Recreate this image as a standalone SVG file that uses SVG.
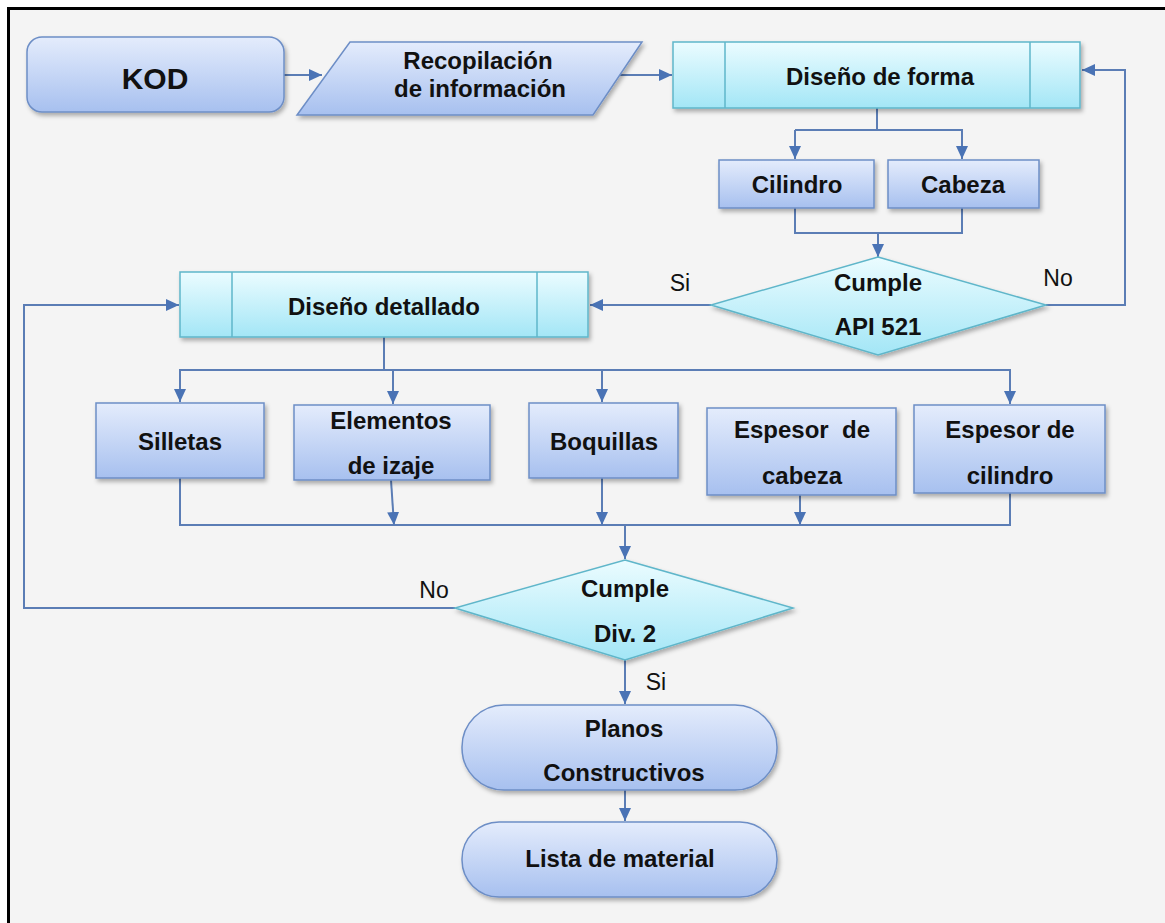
<svg xmlns="http://www.w3.org/2000/svg" width="1165" height="923" viewBox="0 0 1165 923">
<defs>
<linearGradient id="gb" x1="0" y1="0" x2="0" y2="1"><stop offset="0" stop-color="#e4ecfc"/><stop offset="1" stop-color="#a7c0ef"/></linearGradient>
<linearGradient id="gc" x1="0" y1="0" x2="0" y2="1"><stop offset="0" stop-color="#ebfcff"/><stop offset="1" stop-color="#a3e6f6"/></linearGradient>
<filter id="sh" x="-10%" y="-10%" width="130%" height="140%"><feDropShadow dx="2" dy="3" stdDeviation="2" flood-color="#000" flood-opacity="0.3"/></filter>
<marker id="ar" markerUnits="userSpaceOnUse" markerWidth="14" markerHeight="14" viewBox="0 0 14 14" refX="13" refY="7" orient="auto"><path d="M0,1 L13,7 L0,13 Z" fill="#4a73b5"/></marker>
<style>
.b{fill:url(#gb);stroke:#6d8ec6;stroke-width:1.5;filter:url(#sh)}
.c{fill:url(#gc);stroke:#5fb6ca;stroke-width:1.5;filter:url(#sh)}
.in{stroke:#5fb6ca;stroke-width:1.5;fill:none}
.t{font-family:"Liberation Sans",Arial,sans-serif;font-weight:bold;font-size:24px;fill:#111;text-anchor:middle}
.l{font-family:"Liberation Sans",Arial,sans-serif;font-size:23px;fill:#111;text-anchor:middle}
.k{stroke:#5b7db5;stroke-width:2;fill:none}
.a{stroke:#5b7db5;stroke-width:2;fill:none;marker-end:url(#ar)}
</style>
</defs>
<rect x="0" y="0" width="1165" height="923" fill="#fff"/>
<rect x="8.5" y="8.5" width="1170" height="930" fill="#f4f4f4" stroke="#000" stroke-width="3"/>

<g id="connectors">
<path class="a" d="M284,75 H322"/>
<path class="a" d="M613,75 H672"/>
<path class="a" d="M1046,305 H1125 V70 H1082"/>
<path class="k" d="M877,108 V130 H795"/>
<path class="a" d="M795,130 V159"/>
<path class="a" d="M877,130 H962 V159"/>
<path class="k" d="M795,208 V233 H962 V208"/>
<path class="a" d="M878,233 V257"/>
<path class="a" d="M711,305 H590"/>
<path class="a" d="M455,608 H24 V305 H179"/>
<path class="k" d="M384,337 V370"/>
<path class="a" d="M384,370 H180 V402"/>
<path class="a" d="M393,370 V404"/>
<path class="a" d="M384,370 H602 V402"/>
<path class="a" d="M602,370 H1010 V404"/>
<path class="k" d="M180,478 V525 H1010 V493"/>
<path class="a" d="M391,480 L394,525"/>
<path class="a" d="M602,478 V525"/>
<path class="a" d="M800,495 V525"/>
<path class="a" d="M625,525 V559"/>
<path class="a" d="M625,660 V704"/>
<path class="a" d="M625,790 V821"/>
</g>

<g id="kod"><rect class="b" x="27" y="37" width="257" height="75" rx="15"/><text class="t" x="155" y="89" style="font-size:30px">KOD</text></g>
<g id="recopilacion"><path class="b" d="M350,42 H642 L593,115 H297 Z"/><text class="t" x="478" y="69">Recopilación</text><text class="t" x="480" y="97">de información</text></g>
<g id="diseno-forma"><rect class="c" x="673" y="42" width="407" height="66"/><path class="in" d="M725,42 V108 M1030,42 V108"/><text class="t" x="880" y="85">Diseño de forma</text></g>
<g id="cilindro"><rect class="b" x="719" y="160" width="155" height="48"/><text class="t" x="797" y="193">Cilindro</text></g>
<g id="cabeza"><rect class="b" x="888" y="160" width="151" height="48"/><text class="t" x="963" y="193">Cabeza</text></g>
<g id="api521"><path class="c" d="M878,257 L1046,305 L878,355 L711,305 Z"/><text class="t" x="878" y="291">Cumple</text><text class="t" x="878" y="335">API 521</text></g>
<g id="diseno-detallado"><rect class="c" x="180" y="272" width="408" height="65"/><path class="in" d="M232,272 V337 M537,272 V337"/><text class="t" x="384" y="315">Diseño detallado</text></g>
<g id="silletas"><rect class="b" x="96" y="403" width="168" height="75"/><text class="t" x="180" y="450">Silletas</text></g>
<g id="elementos"><rect class="b" x="294" y="405" width="196" height="75"/><text class="t" x="391" y="429">Elementos</text><text class="t" x="391" y="474">de izaje</text></g>
<g id="boquillas"><rect class="b" x="529" y="403" width="149" height="75"/><text class="t" x="604" y="450">Boquillas</text></g>
<g id="espesor-cabeza"><rect class="b" x="707" y="408" width="189" height="87"/><text class="t" x="802" y="438">Espesor&#160; de</text><text class="t" x="802" y="484">cabeza</text></g>
<g id="espesor-cilindro"><rect class="b" x="914" y="405" width="191" height="88"/><text class="t" x="1010" y="438">Espesor de</text><text class="t" x="1010" y="484">cilindro</text></g>
<g id="div2"><path class="c" d="M625,560 L793,608 L625,660 L455,608 Z"/><text class="t" x="625" y="597">Cumple</text><text class="t" x="625" y="642">Div. 2</text></g>
<g id="planos"><rect class="b" x="462" y="705" width="315" height="85" rx="42"/><text class="t" x="624" y="737">Planos</text><text class="t" x="624" y="781">Constructivos</text></g>
<g id="lista"><rect class="b" x="462" y="822" width="315" height="75" rx="37"/><text class="t" x="620" y="867">Lista de material</text></g>

<g id="labels">
<text class="l" x="680" y="291">Si</text>
<text class="l" x="1058" y="286">No</text>
<text class="l" x="434" y="598">No</text>
<text class="l" x="656" y="690">Si</text>
</g>
</svg>
